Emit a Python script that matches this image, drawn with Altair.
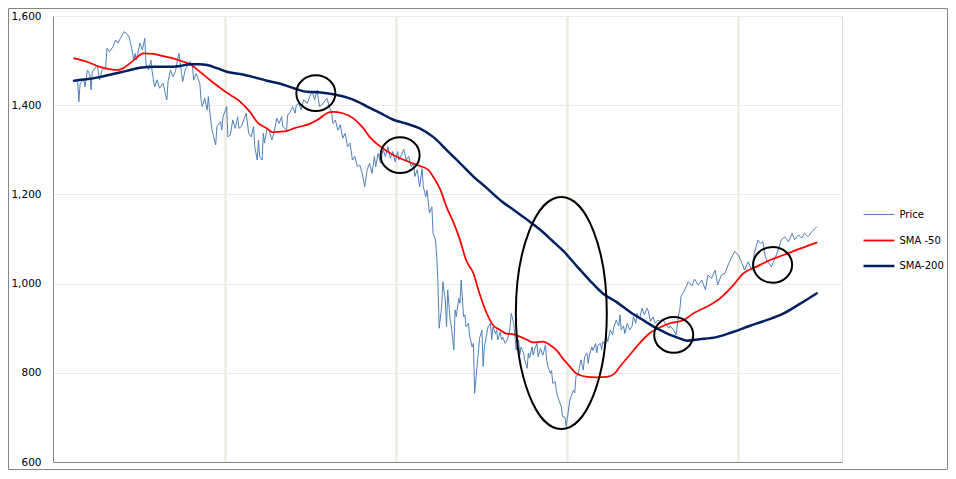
import altair as alt
import pandas as pd

# ---- data (x = trading-day index, y = index level) ----
price_pts = [
    (3,1453),(4,1408),(5,1449),(8,1457),(9,1441),(11,1479),(13,1468),(14,1434),(15,1475),(19,1490),
    (21,1457),(23,1479),(26,1486),(27,1528),(29,1520),(32,1531),(34,1546),(36,1539),(38,1550),(41,1565),
    (43,1561),(45,1554),(47,1531),(49,1501),(50,1516),(51,1501),(54,1539),(56,1524),(58,1550),(59,1490),
    (61,1479),(63,1501),(64,1475),(66,1441),(68,1457),(70,1438),(73,1449),(75,1423),(76,1412),(77,1453),
    (79,1479),(81,1464),(83,1475),(85,1505),(86,1516),(88,1471),(89,1453),(91,1479),(93,1490),(95,1498),
    (97,1486),(98,1457),(100,1471),(103,1449),(104,1412),(105,1397),(107,1416),(109,1389),(110,1419),(111,1389),
    (113,1344),(115,1322),(116,1311),(117,1352),(120,1363),(121,1344),(122,1374),(124,1389),(125,1397),(126,1329),
    (128,1333),(130,1367),(132,1348),(134,1374),(135,1348),(137,1352),(139,1367),(141,1382),(143,1337),(145,1329),
    (147,1352),(148,1307),(150,1277),(151,1322),(152,1285),(154,1277),(155,1337),(156,1315),(158,1348),(160,1341),
    (162,1322),(164,1341),(166,1371),(168,1359),(170,1374),(171,1352),(174,1344),(175,1378),(177,1385),(179,1397),
    (181,1382),(182,1400),(184,1404),(186,1389),(188,1412),(191,1404),(193,1419),(195,1430),(197,1412),(199,1434),
    (201,1397),(204,1404),(207,1416),(209,1397),(211,1382),(212,1359),(214,1367),(216,1344),(218,1356),(220,1326),
    (222,1337),(224,1307),(226,1315),(228,1277),(230,1285),(232,1262),(234,1266),(236,1247),(238,1217),(240,1255),
    (242,1270),(244,1247),(246,1285),(247,1262),(249,1292),(251,1270),(253,1300),(255,1285),(257,1307),(259,1281),
    (261,1296),(263,1273),(265,1296),(266,1277),(268,1288),(270,1301),(272,1277),(274,1285),(276,1262),(278,1270),
    (279,1240),(281,1255),(283,1217),(285,1258),(286,1217),(288,1195),(289,1210),(291,1158),(293,1172),(294,1113),
    (296,1098),(297,1060),(298,1001),(299,900),(301,948),(302,1004),(304,963),(305,903),(306,986),(308,918),
    (309,903),(311,851),(312,941),(313,926),(315,967),(316,956),(317,1008),(319,926),(320,930),(321,903),
    (323,911),(324,881),(326,858),(327,866),(328,754),(330,814),(331,844),(332,877),(334,896),(335,814),
    (336,858),(338,888),(339,903),(341,911),(342,874),(343,903),(345,888),(346,896),(347,874),(349,892),
    (350,874),(351,880),(353,866),(354,870),(356,885),(357,903),(358,933),(360,911),(361,881),(362,851),
    (364,874),(365,840),(366,858),(368,845),(369,829),(371,810),(372,844),(373,833),(375,858),(376,840),
    (377,851),(379,866),(380,836),(382,855),(383,845),(384,840),(386,862),(387,829),(388,814),(390,799),
    (391,805),(392,776),(394,780),(395,758),(396,747),(398,731),(399,724),(400,702),(402,700),(403,679),
    (404,700),(406,739),(407,747),(409,761),(410,755),(411,791),(413,799),(414,814),(415,829),(417,806),
    (418,836),(420,844),(421,821),(422,840),(424,858),(425,850),(427,866),(428,845),(429,862),(431,866),
    (432,852),(433,870),(435,860),(436,881),(437,870),(439,896),(441,885),(442,903),(444,918),(446,905),
    (447,930),(448,896),(450,905),(451,888),(453,911),(455,896),(457,905),(458,926),(460,911),(461,933),
    (463,920),(465,945),(467,930),(469,945),(470,940),(472,915),(474,925),(476,911),(478,918),(480,915),
    (482,920),(484,911),(487,900),(488,905),(491,896),(493,885),(495,930),(496,941),(497,971),(500,986),
    (503,1004),(506,995),(508,1010),(511,997),(514,1008),(517,986),(519,1019),(522,1012),(525,1030),(527,997),
    (530,1019),(533,1023),(536,1045),(538,1057),(541,1072),(544,1064),(547,1045),(549,1030),(552,1049),(555,1030),
    (557,1068),(560,1098),(562,1090),(564,1094),(566,1060),(568,1049),(571,1038),(574,1057),(577,1079),(579,1098),
    (582,1105),(585,1094),(588,1113),(590,1098),(593,1109),(596,1102),(598,1113),(601,1105),(604,1116),(607,1124),
    (608,1127),
]

sma50_pts = [
    (0,1505),(10,1498),(21,1486),(29,1481),(36,1479),(42,1486),(49,1501),(57,1516),(65,1515),(73,1510),
    (81,1505),(89,1498),(96,1490),(103,1475),(111,1457),(120,1438),(128,1423),(136,1408),(144,1385),(151,1359),
    (158,1348),(163,1339),(169,1341),(174,1342),(180,1348),(185,1352),(193,1358),(201,1370),(207,1382),(212,1385),
    (220,1382),(229,1370),(237,1348),(242,1329),(251,1307),(259,1292),(267,1281),(275,1272),(283,1264),(290,1255),
    (294,1240),(300,1210),(305,1172),(311,1135),(316,1098),(321,1053),(327,1023),(332,978),(338,933),(343,907),
    (349,896),(354,888),(360,886),(365,881),(371,874),(376,868),(384,870),(390,862),(395,851),(400,833),
    (406,814),(411,799),(420,791),(428,790),(436,791),(442,797),(447,814),(455,840),(463,866),(471,888),
    (480,902),(488,911),(499,918),(507,933),(518,948),(529,967),(540,997),(548,1023),(559,1038),(570,1053),
    (581,1064),(595,1079),(608,1092),
]

sma200_pts = [
    (0,1455),(10,1458),(21,1463),(32,1470),(43,1477),(54,1484),(65,1486),(76,1486),(87,1488),(95,1492),
    (103,1492),(109,1490),(117,1483),(125,1475),(136,1470),(147,1463),(158,1455),(169,1448),(180,1438),(191,1430),
    (200,1429),(207,1427),(218,1421),(229,1412),(240,1397),(251,1382),(261,1368),(272,1359),(283,1348),(294,1329),
    (305,1300),(316,1270),(327,1240),(338,1214),(349,1187),(360,1165),(371,1143),(382,1120),(392,1095),(401,1072),
    (412,1038),(422,1008),(433,978),(444,959),(455,937),(466,918),(477,900),(488,885),(493,880),(502,872),
    (512,875),(526,880),(540,892),(553,905),(567,918),(581,933),(594,954),(608,978),
]

series_names = ["Price", "SMA -50", "SMA-200"]
series_colors = ["#4F81BD", "#FF0000", "#002060"]
series_widths = [1.0, 2.5, 2.5]

y_ticks = [600, 800, 1000, 1200, 1400, 1600]
x_grid = [124, 264, 404, 544]

# annotation ellipses (centre day, centre level)
circle_days = [198, 267, 491, 572]
circle_levels = [1427, 1288, 885, 1042]
big_day = [399]
big_level = [934]

# ---- build tables ----
rows = []
for name, pts in zip(series_names, [price_pts, sma50_pts, sma200_pts]):
    for d, v in pts:
        rows.append({"day": d, "value": v, "series": name})
df = pd.DataFrame(rows)

circ_df = pd.DataFrame({"day": circle_days, "value": circle_levels})
big_df = pd.DataFrame({"day": big_day, "value": big_level})

FONT = "DejaVu Sans"
W, H = 789, 446

x_scale = alt.Scale(domain=[-17.2, 628.8], nice=False, zero=False)
y_scale = alt.Scale(domain=[600, 1600], nice=False, zero=False)

x_enc = alt.X("day:Q", scale=x_scale,
              axis=alt.Axis(values=x_grid, labels=False, ticks=False, title=None,
                            grid=True, gridColor="#EEECE1", gridWidth=2.5,
                            domainColor="#868686", domainWidth=1))
y_enc = alt.Y("value:Q", scale=y_scale,
              axis=alt.Axis(values=y_ticks, format=",.0f", ticks=False, title=None,
                            labelPadding=12, labelFont=FONT, labelFontSize=10.5,
                            labelColor="#000000", grid=True, gridColor="#EEECE1",
                            gridWidth=1, domainColor="#868686", domainWidth=1))

legend_line = "M -2 0 L 2 0"
leg = dict(title=None, orient="none", legendX=817, legendY=190,
           symbolType=legend_line, symbolSize=240,
           labelFont=FONT, labelFontSize=10, labelColor="#000000",
           labelOffset=11.5, rowPadding=11.5)

color_enc = alt.Color("series:N",
                      scale=alt.Scale(domain=series_names, range=series_colors),
                      legend=alt.Legend(**leg))
width_enc = alt.StrokeWidth("series:N",
                            scale=alt.Scale(domain=series_names, range=series_widths),
                            legend=alt.Legend(**leg))

base = alt.Chart(df).encode(x=x_enc, y=y_enc, color=color_enc, strokeWidth=width_enc)

price_line = base.transform_filter(alt.datum.series == "Price").mark_line(
    strokeJoin="round", strokeCap="round")
sma_lines = base.transform_filter(alt.datum.series != "Price").mark_line(
    interpolate="monotone", strokeJoin="round", strokeCap="round")

small_path = "M -1 0 A 1 0.92 0 1 1 1 0 A 1 0.92 0 1 1 -1 0 Z"
big_path = "M 0 -1 A 0.392 1 0 1 1 0 1 A 0.392 1 0 1 1 0 -1 Z"

circles = alt.Chart(circ_df).mark_point(shape=small_path, size=1521, filled=False,
                                         stroke="#000000", strokeWidth=2, opacity=1).encode(
    x=alt.X("day:Q", scale=x_scale),
    y=alt.Y("value:Q", scale=y_scale),
)
big = alt.Chart(big_df).mark_point(shape=big_path, size=53824, filled=False,
                                    stroke="#000000", strokeWidth=2, opacity=1).encode(
    x=alt.X("day:Q", scale=x_scale),
    y=alt.Y("value:Q", scale=y_scale),
)

frame = alt.Chart(pd.DataFrame({"k": [0]})).mark_rect(fill=None, stroke="#868686", strokeWidth=1).encode(
    x=alt.value(-44.5), x2=alt.value(894.5), y=alt.value(-7.5), y2=alt.value(453.5)
)

chart = alt.layer(frame, price_line, sma_lines, circles, big).properties(
    width=W, height=H,
    autosize=alt.AutoSizeParams(type="none"),
    padding={"left": 45, "top": 8, "right": 106, "bottom": 8},
).configure_view(stroke=None).configure(background="#FFFFFF")

chart.save("out.html", embed_options={"renderer": "svg", "actions": False})
